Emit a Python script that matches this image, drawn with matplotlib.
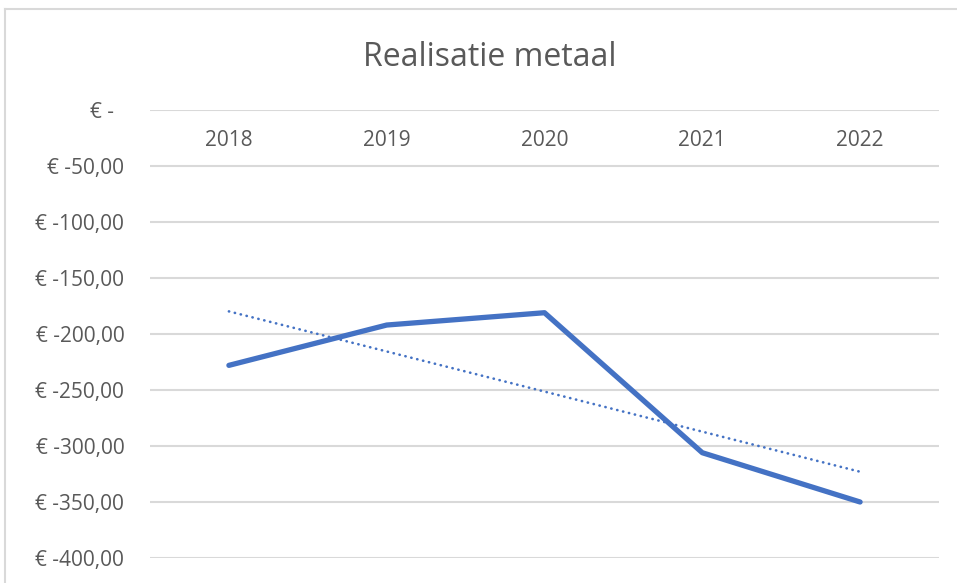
import numpy as np
import matplotlib
matplotlib.use('Agg')
import matplotlib.pyplot as plt
from matplotlib.lines import Line2D

# Gegevens uit de grafiek
jaren = ['2018', '2019', '2020', '2021', '2022']
realisatie = [-228, -192, -181, -306, -350]
y_ticks = [0, -50, -100, -150, -200, -250, -300, -350, -400]

blauw = '#4472C4'
grijs_tekst = '#595959'
grijs_lijn = '#D9D9D9'

plt.rcParams['font.family'] = ['Open Sans', 'DejaVu Sans']

W, H = 957, 583
fig = plt.figure(figsize=(W / 100, H / 100), dpi=100)

# Plotgebied (pixels omgerekend naar figuurfracties)
left, right, top, bottom = 150, 939, 110, 558
ax = fig.add_axes([left / W, (H - bottom) / H, (right - left) / W, (bottom - top) / H])

x = np.arange(len(jaren))
ax.plot(x, realisatie, color=blauw, linewidth=3.8, solid_capstyle='round',
        solid_joinstyle='round', zorder=3)

# Lineaire trendlijn
coef = np.polyfit(x, realisatie, 1)
ax.plot(x, np.polyval(coef, x), color=blauw, linewidth=1.9,
        linestyle=(0, (0.1, 2.2)), dash_capstyle='round', zorder=2)

ax.set_xlim(-0.5, 4.5)
ax.set_ylim(-400, 0)
ax.set_yticks(y_ticks)


def euro(v):
    if v == 0:
        return '€ -  '
    return '€ ' + f'{v:.2f}'.replace('.', ',')


ax.set_yticklabels([euro(v) for v in y_ticks])
ax.tick_params(axis='y', length=0, pad=18.5, labelsize=15, labelcolor=grijs_tekst)
ax.set_xticks([])
ax.grid(axis='y', color=grijs_lijn, linewidth=1.5)
ax.set_axisbelow(True)
for s in ax.spines.values():
    s.set_visible(False)

# Categorielabels net onder de nul-as
for i, j in enumerate(jaren):
    ax.text(i, 1 - 30 / 448, j, transform=ax.get_xaxis_transform(), ha='center',
            va='center', fontsize=15, color=grijs_tekst)

fig.text(490 / W, 1 - 57 / H, 'Realisatie metaal', ha='center', va='center',
         fontsize=23, color=grijs_tekst)

# Rand van het grafiekgebied
fig.add_artist(Line2D([5 / W, 5 / W], [0, 1 - 9 / H], color=grijs_lijn, linewidth=1.5))
fig.add_artist(Line2D([5 / W, 1], [1 - 9 / H, 1 - 9 / H], color=grijs_lijn, linewidth=1.5))

fig.savefig('out.png', dpi=100)
